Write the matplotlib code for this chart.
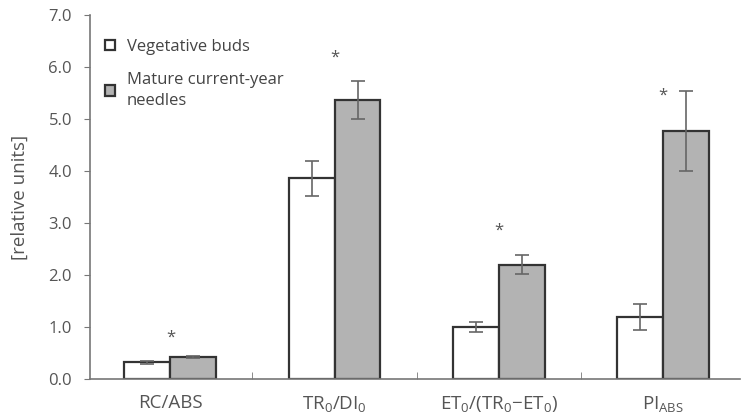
import numpy as np
import matplotlib
matplotlib.use("Agg")
import matplotlib.pyplot as plt

plt.rcParams['font.family'] = ['Open Sans', 'DejaVu Sans']
plt.rcParams['mathtext.default'] = 'regular'

# data
categories = ["RC/ABS", "TR$_0$/DI$_0$", "ET$_0$/(TR$_0$\u2212ET$_0$)", "PI$_{ABS}$"]
buds = [0.32, 3.86, 1.0, 1.19]
buds_err = [0.03, 0.34, 0.1, 0.25]
needles = [0.42, 5.36, 2.2, 4.77]
needles_err = [0.02, 0.37, 0.19, 0.77]
star_y = [0.79, 6.17, 2.85, 5.44]
series_names = ["Vegetative buds", "Mature current-year\nneedles"]
yticks = [0.0, 1.0, 2.0, 3.0, 4.0, 5.0, 6.0, 7.0]

txt = '#555555'
edge = '#333333'

fig = plt.figure(figsize=(7.41, 4.16), dpi=100)
ax = fig.add_axes([0.1215, 0.089, 0.877, 0.875])

x = np.arange(len(categories))
w = 0.28
err_kw = dict(ecolor='#666666', elinewidth=1.2, capsize=5, capthick=1.2)
ax.bar(x - w / 2, buds, w, yerr=buds_err, color='white', edgecolor=edge,
       linewidth=1.6, error_kw=err_kw, label=series_names[0], zorder=2)
ax.bar(x + w / 2, needles, w, yerr=needles_err, color='#b3b3b3', edgecolor=edge,
       linewidth=1.6, error_kw=err_kw, label=series_names[1], zorder=2)

for xi, sy in zip(x, star_y):
    ax.text(xi, sy, "*", ha='center', va='center', fontsize=12, color='#555555')

ax.set_xlim(-0.49, 3.47)
ax.set_ylim(0, 7.0)
ax.set_yticks(yticks)
ax.set_yticklabels([f"{v:.1f}" for v in yticks])
ax.set_xticks(x)
ax.set_xticklabels(categories)
ax.set_xticks([0.5, 1.5, 2.5], minor=True)
ax.tick_params(axis='x', which='major', length=0, pad=11, labelsize=13.5, labelcolor=txt)
ax.tick_params(axis='x', which='minor', direction='in', length=5, color='#777777')
ax.tick_params(axis='y', length=4, color='#777777', labelsize=12, labelcolor=txt, pad=9)
ax.set_ylabel("[relative units]", fontsize=13.5, color=txt, labelpad=14)

for s in ['top', 'right']:
    ax.spines[s].set_visible(False)
for s in ['left', 'bottom']:
    ax.spines[s].set_color('#777777')
    ax.spines[s].set_linewidth(1.2)

leg = ax.legend(loc='upper left', bbox_to_anchor=(0.0, 0.975), frameon=False,
                fontsize=12, handlelength=0.6, handleheight=0.6, handletextpad=0.7,
                labelspacing=1.0)
for t in leg.get_texts():
    t.set_color('#444444')
    t.set_linespacing(1.4)

fig.savefig("out.png", dpi=100)
